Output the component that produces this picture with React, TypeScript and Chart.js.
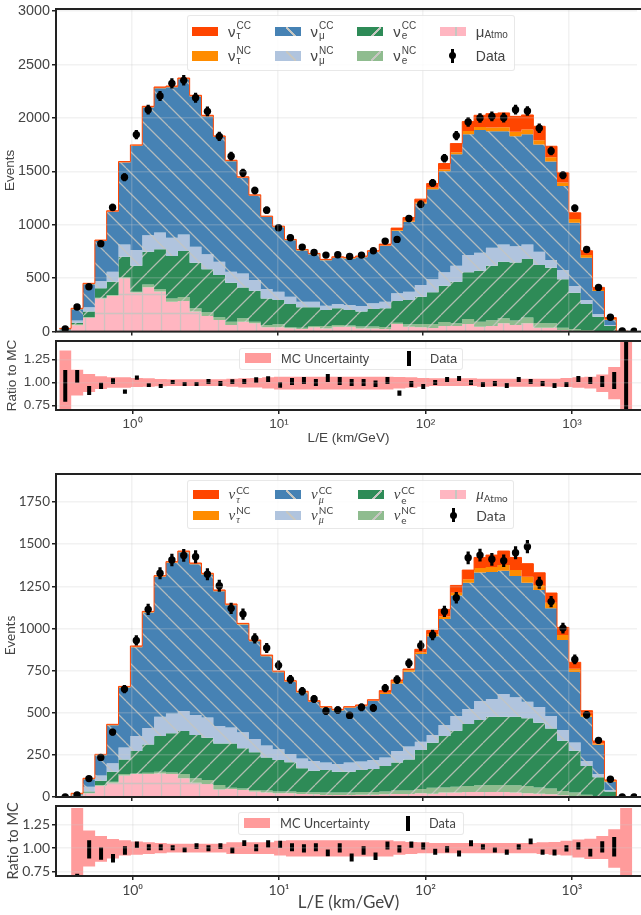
import { useEffect, useRef } from "react"
import { Chart, registerables } from "chart.js"

Chart.register(...registerables)

// log-spaced bin edges, km/GeV
const binEdges = [
  0.316, 0.381, 0.46, 0.555, 0.669, 0.807, 0.974, 1.175, 1.417, 1.71, 2.063, 2.488, 3.001, 3.621, 4.368, 5.269, 6.356,
  7.667, 9.25, 11.16, 13.46, 16.24, 19.59, 23.63, 28.5, 34.39, 41.48, 50.04, 60.37, 72.84, 87.84, 106.0, 127.8, 154.2,
  186.1, 224.4, 270.7, 326.6, 393.9, 475.3, 573.4, 691.6, 834.2, 1006, 1214, 1464, 1767, 2132, 2571, 3103,
]
const xTicks = [1, 10, 100, 1000]
const superscripts: Record<number, string> = { 1: "10⁰", 10: "10¹", 100: "10²", 1000: "10³" }
const xMin = 0.316
const xMax = 2958

const ratioTicks = [0.75, 1, 1.25]
const upperTicks = [0, 500, 1000, 1500, 2000, 2500, 3000]
const lowerTicks = [0, 250, 500, 750, 1000, 1250, 1500, 1750]

// upper figure: top edge of each layer of the stack
const upperTauCC = [30,218,452,857,1131,1592,1748,2109,2290,2299,2374,2212,2025,1832,1604,1449,1280,1081,987,863,769,732,676,700,695,707,757,819,969,1068,1240,1386,1573,1760,1966,2025,2040,2047,2015,2028,1922,1735,1486,1112,757,414,131,3,0]
const upperTauNC = [26,214,447,851,1125,1586,1741,2101,2282,2291,2366,2204,2017,1825,1597,1443,1274,1075,981,857,763,726,670,694,688,700,749,807,950,1037,1212,1346,1517,1679,1878,1916,1910,1913,1872,1891,1791,1632,1396,1053,716,389,115,2,0]
const upperMuCC = [22,210,444,848,1122,1583,1738,2098,2279,2288,2363,2201,2014,1822,1594,1440,1271,1072,978,854,760,723,667,691,685,697,745,801,944,1028,1199,1333,1501,1660,1847,1888,1875,1875,1829,1847,1751,1592,1364,1019,692,380,109,1,0]
const upperMuNC = [12,103,227,473,561,816,763,903,928,878,910,794,723,654,561,545,483,399,374,327,280,280,243,259,249,240,265,280,358,374,436,489,555,617,716,738,785,816,800,816,748,670,576,427,296,165,62,1,0]
const upperECC = [10,84,187,405,467,700,617,748,770,707,754,645,583,530,458,414,383,311,296,259,227,227,202,218,202,187,212,218,287,296,327,368,430,467,555,570,617,654,648,679,623,598,489,364,259,140,53,1,0]
const upperENC = [8,72,137,318,343,508,374,442,396,311,324,218,181,134,93,125,93,62,69,40,37,53,53,62,56,47,47,44,84,69,72,72,90,78,118,93,106,125,103,131,81,78,37,25,15,6,3,0,0]
const upperAtmo = [6,60,130,310,335,500,365,415,375,280,287,187,146,109,62,93,78,40,40,31,25,40,30,45,45,30,30,24,70,45,40,34,53,53,70,45,53,78,62,78,37,37,15,6,0,0,0,0,0]
const upperData = [25,230,420,822,1162,1445,1844,2078,2205,2324,2352,2190,2062,1828,1642,1486,1321,1137,972,878,791,741,716,720,704,716,757,847,863,1059,1193,1392,1623,1835,1962,2000,2015,2003,2078,2065,1903,1691,1464,1156,769,414,134,6,3]
const upperErr = [5,15,20,29,34,38,43,46,47,48,49,47,45,43,41,39,36,34,31,30,28,27,27,27,27,27,28,29,29,33,35,37,40,43,44,45,45,45,46,45,44,41,38,34,28,20,12,2,2]

const upperBandHi = [1.35,1.14,1.095,1.07,1.058,1.058,1.05,1.047,1.04,1.036,1.036,1.036,1.036,1.036,1.043,1.047,1.05,1.058,1.065,1.065,1.065,1.065,1.065,1.065,1.065,1.065,1.065,1.065,1.062,1.058,1.05,1.047,1.047,1.047,1.047,1.043,1.043,1.043,1.043,1.043,1.043,1.043,1.05,1.058,1.065,1.09,1.17,1.6,1]
const upperBandLo = [0.6,0.86,0.9,0.93,0.945,0.945,0.953,0.957,0.96,0.963,0.963,0.963,0.963,0.963,0.957,0.947,0.947,0.938,0.927,0.927,0.927,0.927,0.927,0.927,0.927,0.927,0.927,0.927,0.938,0.945,0.957,0.963,0.963,0.963,0.963,0.957,0.957,0.957,0.957,0.957,0.957,0.957,0.953,0.945,0.938,0.9,0.82,0.4,1]
const upperRatioHi = [1.139,1.139,0.963,1.0,1.047,0.927,1.077,0.993,0.985,1.03,1.007,1.007,1.04,1.018,1.036,1.04,1.058,1.069,1.004,1.05,1.062,1.04,1.095,1.062,1.04,1.04,1.025,1.062,0.916,1.018,0.985,1.03,1.062,1.073,1.03,1.007,1.018,0.996,1.062,1.04,1.018,0.996,1.007,1.073,1.062,1.073,1.117,1.6,null]
const upperRatioLo = [0.792,1.0,0.865,0.93,0.985,0.88,1.033,0.953,0.942,0.985,0.963,0.963,0.985,0.963,0.985,0.985,1.0,1.007,0.945,0.974,0.985,0.963,1.007,0.974,0.963,0.963,0.953,0.985,0.858,0.953,0.93,0.974,1.007,1.018,0.974,0.953,0.963,0.942,1.007,0.985,0.963,0.942,0.953,1.007,0.985,0.953,0.93,0.4,null]

// lower figure
const lowerTauCC = [2,22,111,253,431,656,896,1101,1313,1396,1459,1388,1327,1228,1145,1030,931,842,747,690,627,571,536,520,536,546,577,631,694,759,876,988,1113,1255,1346,1421,1435,1459,1421,1384,1330,1210,1006,799,512,332,101,2,0]
const lowerTauNC = [1,20,108,250,428,652,892,1097,1309,1392,1455,1384,1323,1224,1141,1026,927,838,743,686,623,567,532,516,532,542,573,619,684,753,858,965,1070,1212,1291,1358,1364,1376,1346,1307,1257,1153,961,761,486,318,97,1,0]
const lowerMuCC = [0,17,105,247,425,649,889,1094,1306,1389,1452,1381,1320,1221,1138,1023,924,835,740,683,620,564,529,513,529,539,570,611,674,743,848,953,1056,1196,1271,1331,1334,1342,1311,1271,1228,1119,931,741,476,310,91,1,0]
const lowerMuNC = [0,10,61,128,200,293,362,409,476,496,510,486,471,421,413,384,344,306,283,255,229,214,204,196,204,210,219,235,273,299,328,368,427,480,522,569,581,611,591,565,534,480,397,324,214,136,41,0,0]
const lowerECC = [0,8,32,97,150,223,273,312,362,378,391,368,352,318,318,289,265,235,219,206,170,156,160,150,150,160,166,184,204,223,279,322,362,393,433,457,476,476,476,467,441,407,334,275,184,117,32,0,0]
const lowerENC = [0,6,26,71,91,136,140,144,150,146,136,111,101,71,55,51,41,38,32,32,30,28,26,26,26,30,30,32,38,38,47,55,57,61,65,69,71,71,69,65,57,51,36,26,14,6,2,0,0]
const lowerAtmo = [0,2,22,67,85,127,136,136,140,136,111,85,77,45,47,41,32,26,22,22,18,16,12,12,12,14,14,16,18,18,22,20,26,26,30,30,30,30,26,22,20,16,10,4,0,0,0,0,0]
const lowerData = [0,12,109,235,385,640,929,1113,1327,1406,1433,1425,1321,1253,1119,1085,941,884,781,698,627,581,510,516,484,532,528,646,696,793,898,961,1101,1182,1419,1435,1410,1402,1449,1485,1271,1159,1002,816,488,336,105,0,0]
const lowerErr = [1,4,10,15,20,25,30,33,36,37,38,38,36,35,33,33,31,30,28,26,25,24,23,23,22,23,23,25,26,28,30,31,33,34,38,38,38,37,38,39,36,34,32,29,22,18,10,1,1]

const lowerBandHi = [1,1.425,1.186,1.128,1.095,1.084,1.07,1.062,1.055,1.047,1.047,1.047,1.047,1.047,1.062,1.062,1.062,1.062,1.077,1.084,1.084,1.084,1.084,1.084,1.084,1.084,1.084,1.084,1.073,1.065,1.062,1.055,1.055,1.055,1.055,1.055,1.055,1.055,1.055,1.055,1.062,1.065,1.077,1.091,1.1,1.128,1.2,1.425,1]
const lowerBandLo = [1,0.4,0.803,0.854,0.89,0.92,0.93,0.938,0.945,0.953,0.953,0.953,0.953,0.953,0.938,0.938,0.938,0.938,0.92,0.909,0.909,0.909,0.909,0.909,0.909,0.909,0.909,0.909,0.93,0.938,0.945,0.945,0.945,0.945,0.945,0.945,0.945,0.945,0.945,0.945,0.938,0.93,0.92,0.9,0.883,0.883,0.79,0.4,1]
const lowerRatioHi = [null,0.726,1.084,1.007,0.938,1.018,1.07,1.04,1.04,1.03,1.007,1.05,1.03,1.05,1.007,1.084,1.04,1.084,1.077,1.05,1.04,1.05,0.985,1.05,0.942,1.018,0.953,1.07,1.03,1.07,1.058,0.993,1.018,0.974,1.084,1.04,1.007,0.985,1.04,1.102,0.985,0.985,1.03,1.062,0.993,1.073,1.117,null,null]
const lowerRatioLo = [null,0.69,0.89,0.876,0.847,0.93,1.0,0.978,0.978,0.978,0.956,0.99,0.967,0.99,0.945,1.022,0.967,1.007,1.0,0.967,0.953,0.967,0.912,0.953,0.858,0.93,0.872,0.985,0.953,1.0,0.985,0.93,0.953,0.909,1.018,0.985,0.953,0.93,0.985,1.04,0.93,0.92,0.963,0.985,0.909,0.953,0.909,null,null]

const COLORS = {
  tauCC: "#ff4500",
  tauNC: "#ff8c00",
  muCC: "#4682b4",
  muNC: "#b0c4de",
  eCC: "#2e8b57",
  eNC: "#8fbc8f",
  atmo: "#ffb6c1",
  band: "#ff9b9b",
  text: "#444444",
  frame: "#222222",
  grid: "rgba(205,205,205,0.25)",
  hatch: "rgba(198,198,192,0.85)",
}

const SANS = '"Liberation Sans"'
const LATEX = "Lato"

// one tile of matplotlib style hatching
function hatchPattern(color: string, kind: "/" | "\\" | "+") {
  const size = kind === "+" ? 19 : 21
  const tile = document.createElement("canvas")
  tile.width = size
  tile.height = size
  const ctx = tile.getContext("2d")!
  ctx.fillStyle = color
  ctx.fillRect(0, 0, size, size)
  ctx.strokeStyle = COLORS.hatch
  ctx.lineWidth = 1.3
  ctx.beginPath()
  if (kind === "+") {
    ctx.moveTo(size / 2, 0)
    ctx.lineTo(size / 2, size)
    ctx.moveTo(0, size / 2)
    ctx.lineTo(size, size / 2)
  } else {
    for (const shift of [-size, 0, size]) {
      if (kind === "/") {
        ctx.moveTo(shift, size)
        ctx.lineTo(shift + size, 0)
      } else {
        ctx.moveTo(shift, 0)
        ctx.lineTo(shift + size, size)
      }
    }
  }
  ctx.stroke()
  return ctx.createPattern(tile, "repeat")!
}

const stairs = (values: number[]) =>
  binEdges.map((edge, i) => ({ x: edge, y: values[Math.min(i, values.length - 1)] }))

const centre = (i: number) => Math.sqrt(binEdges[i] * binEdges[i + 1])

const errorBars = (lo: (number | null)[], hi: (number | null)[]) =>
  lo.flatMap((l, i) =>
    l === null
      ? []
      : [
          { x: centre(i), y: l },
          { x: centre(i), y: hi[i] },
          { x: centre(i), y: null },
        ],
  )

const frame = {
  id: "frame",
  afterDraw(chart: Chart) {
    const { ctx, chartArea } = chart
    ctx.save()
    ctx.strokeStyle = COLORS.frame
    ctx.lineWidth = 2
    ctx.strokeRect(chartArea.left, chartArea.top, chartArea.right - chartArea.left + 10, chartArea.bottom - chartArea.top)
    ctx.restore()
  },
}

// the plot box is fixed by hand, so tick labels must not push it around
const noPadding = (s: any) => {
  s.paddingTop = 0
  s.paddingBottom = 0
  s.paddingLeft = 0
  s.paddingRight = 0
}

function baseOptions(p: PanelProps): any {
  const plotTop = p.plotTop - p.top
  return {
    responsive: false,
    animation: false,
    layout: { padding: { top: plotTop, left: 0, right: 0, bottom: 0 } },
    plugins: { legend: { display: false }, tooltip: { enabled: false } },
    events: [],
    scales: {
      x: {
        type: "logarithmic",
        min: xMin,
        max: xMax,
        afterFit: (s: any) => {
          s.height = p.top + p.height - p.plotBottom
          noPadding(s)
        },
        afterBuildTicks: (s: any) => {
          s.ticks = xTicks.map((value) => ({ value }))
        },
        border: { display: false },
        grid: { z: 1, color: COLORS.grid, lineWidth: 1.5, tickColor: COLORS.frame, tickWidth: 1.5, tickLength: 4 },
        ticks: {
          display: !!p.xTitle,
          autoSkip: false,
          maxRotation: 0,
          padding: 2,
          color: COLORS.text,
          font: { family: p.font, size: p.tickSize },
          callback: (v: number) => superscripts[v],
        },
        title: p.xTitle
          ? {
              display: true,
              text: p.xTitle,
              color: COLORS.text,
              font: { family: p.font, size: p.xTitleSize },
              padding: p.xTitlePad,
            }
          : { display: false },
      },
      y: {
        min: p.yMin,
        max: p.yMax,
        afterFit: (s: any) => {
          s.width = 56
          noPadding(s)
        },
        afterBuildTicks: (s: any) => {
          s.ticks = p.yTicks.map((value) => ({ value }))
        },
        border: { display: false },
        grid: { z: 1, color: COLORS.grid, lineWidth: 1.5, tickColor: COLORS.frame, tickWidth: 1.5, tickLength: 4 },
        ticks: {
          autoSkip: false,
          padding: 2,
          color: COLORS.text,
          font: { family: p.font, size: p.tickSize },
          callback: (v: number) => (p.yDigits ? v.toFixed(p.yDigits) : String(v)),
        },
        title: {
          display: true,
          text: p.yTitle,
          color: COLORS.text,
          font: { family: p.font, size: p.yTitleSize },
          padding: p.yTitlePad,
        },
      },
    },
  }
}

interface PanelProps {
  top: number
  height: number
  plotTop: number
  plotBottom: number
  yMin: number
  yMax: number
  yTicks: number[]
  yDigits?: number
  yTitle: string
  yTitleSize: number
  yTitlePad: number
  xTitle?: string
  xTitleSize?: number
  xTitlePad?: number
  tickSize: number
  font: string
  datasets: () => any[]
}

function Panel(p: PanelProps) {
  const canvasRef = useRef<HTMLCanvasElement | null>(null)

  useEffect(() => {
    if (!canvasRef.current) return
    const chart = new Chart(canvasRef.current, {
      type: "line",
      data: { datasets: p.datasets() },
      options: baseOptions(p),
      plugins: [frame],
    })
    return () => chart.destroy()
  }, [])

  return (
    <canvas
      ref={canvasRef}
      width={641}
      height={p.height}
      style={{ position: "absolute", left: 0, top: p.top, width: 641, height: p.height }}
    />
  )
}

function stackDatasets(layers: number[][], data: number[], err: number[]) {
  const looks = [
    { bg: COLORS.tauCC, border: COLORS.tauCC },
    { bg: COLORS.tauNC },
    { bg: hatchPattern(COLORS.muCC, "\\") },
    { bg: hatchPattern(COLORS.muNC, "\\") },
    { bg: hatchPattern(COLORS.eCC, "/") },
    { bg: hatchPattern(COLORS.eNC, "/") },
    { bg: hatchPattern(COLORS.atmo, "+") },
  ]
  return [
    {
      data: data.map((y, i) => ({ x: centre(i), y })),
      showLine: false,
      pointRadius: 3.7,
      pointBorderWidth: 0,
      pointBackgroundColor: "#000",
    },
    {
      data: errorBars(data.map((d, i) => d - err[i]), data.map((d, i) => d + err[i])),
      borderColor: "#000",
      borderWidth: 3.2,
      pointRadius: 0,
    },
    ...layers.map((values, i) => ({
      data: stairs(values),
      stepped: "before",
      pointRadius: 0,
      borderWidth: looks[i].border ? 1 : 0,
      borderColor: looks[i].border ?? "transparent",
      backgroundColor: looks[i].bg,
      fill: i === layers.length - 1 ? "origin" : "+1",
    })),
  ]
}

function ratioDatasets(bandHi: number[], bandLo: number[], hi: (number | null)[], lo: (number | null)[]) {
  return [
    { data: errorBars(lo, hi), borderColor: "#000", borderWidth: 4, pointRadius: 0 },
    {
      data: stairs(bandHi),
      stepped: "before",
      pointRadius: 0,
      borderWidth: 0,
      backgroundColor: COLORS.band,
      fill: "+1",
    },
    { data: stairs(bandLo), stepped: "before", pointRadius: 0, borderWidth: 0 },
  ]
}

// legend

interface LegendStyle {
  font: string
  greek: string
  greekStyle: "normal" | "italic"
  textSize: number
  scriptSize: number
}

function hatchCss(kind?: string) {
  const line = (angle: number) =>
    `linear-gradient(${angle}deg, transparent 44%, #c6c6c0 44%, #c6c6c0 56%, transparent 56%)`
  if (kind === "/") return { backgroundImage: line(135), backgroundSize: "10px 10px", backgroundPosition: "14px 0", backgroundRepeat: "no-repeat" }
  if (kind === "\\") return { backgroundImage: line(45), backgroundSize: "10px 10px", backgroundPosition: "11px 0", backgroundRepeat: "no-repeat" }
  if (kind === "+") return { backgroundImage: line(90), backgroundSize: "14px 10px", backgroundPosition: "9px 0", backgroundRepeat: "no-repeat" }
  return {}
}

function Swatch({ color, hatch }: { color: string; hatch?: string }) {
  return <span style={{ width: 26, height: 9.5, backgroundColor: color, flex: "none", ...hatchCss(hatch) }} />
}

function Neutrino({ flavour, kind, s }: { flavour: string; kind: string; s: LegendStyle }) {
  return (
    <span style={{ display: "inline-flex", alignItems: "center", marginLeft: 10 }}>
      <span style={{ fontFamily: s.greek, fontStyle: s.greekStyle, fontSize: s.textSize + 2 }}>ν</span>
      <span style={{ display: "inline-flex", flexDirection: "column", fontSize: s.scriptSize, lineHeight: "10px", marginLeft: 1 }}>
        <span>{kind}</span>
        <span style={flavour === "e" ? {} : { fontFamily: s.greek, fontStyle: s.greekStyle }}>{flavour}</span>
      </span>
    </span>
  )
}

const legendFlavours = [
  { flavour: "τ", kinds: ["CC", "NC"], colors: [COLORS.tauCC, COLORS.tauNC], hatch: undefined },
  { flavour: "μ", kinds: ["CC", "NC"], colors: [COLORS.muCC, COLORS.muNC], hatch: "\\" },
  { flavour: "e", kinds: ["CC", "NC"], colors: [COLORS.eCC, COLORS.eNC], hatch: "/" },
]

function StackLegend({ left, top, width, height, rowGap, s }: { left: number; top: number; width: number; height: number; rowGap: number; s: LegendStyle }) {
  const columnWidth = 82.6
  return (
    <div
      style={{
        position: "absolute",
        left,
        top,
        width,
        height,
        boxSizing: "border-box",
        background: "rgba(255,255,255,0.8)",
        border: "1px solid rgba(0,0,0,0.09)",
        borderRadius: 3,
        color: COLORS.text,
        fontFamily: s.font,
        fontSize: s.textSize,
      }}
    >
      {legendFlavours.map((f, c) =>
        f.kinds.map((kind, r) => (
          <div
            key={f.flavour + kind}
            style={{
              position: "absolute",
              left: 4.5 + c * columnWidth,
              top: (height - rowGap) / 2 - 11 + r * rowGap,
              height: 22,
              display: "flex",
              alignItems: "center",
            }}
          >
            <Swatch color={f.colors[r]} hatch={f.hatch} />
            <Neutrino flavour={f.flavour} kind={kind} s={s} />
          </div>
        )),
      )}
      <div style={{ position: "absolute", left: 4.5 + 3 * columnWidth, top: (height - rowGap) / 2 - 11, height: 22, display: "flex", alignItems: "center" }}>
        <Swatch color={COLORS.atmo} hatch="+" />
        <span style={{ marginLeft: 10, fontFamily: s.greek, fontStyle: s.greekStyle, fontSize: s.textSize + 2 }}>μ</span>
        <span style={{ fontSize: s.scriptSize, position: "relative", top: 3 }}>Atmo</span>
      </div>
      <div style={{ position: "absolute", left: 4.5 + 3 * columnWidth, top: (height - rowGap) / 2 - 11 + rowGap, height: 22, display: "flex", alignItems: "center" }}>
        <span style={{ width: 26, height: 14, flex: "none", position: "relative" }}>
          <span style={{ position: "absolute", left: 11.5, top: 0, width: 3, height: 14, background: "#000" }} />
          <span style={{ position: "absolute", left: 9.5, top: 3.5, width: 7, height: 7, borderRadius: "50%", background: "#000" }} />
        </span>
        <span style={{ marginLeft: 10, fontSize: s.textSize + 1 }}>Data</span>
      </div>
    </div>
  )
}

function RatioLegend({ left, top, width, height, font, size }: { left: number; top: number; width: number; height: number; font: string; size: number }) {
  return (
    <div
      style={{
        position: "absolute",
        left,
        top,
        width,
        height,
        boxSizing: "border-box",
        background: "rgba(255,255,255,0.8)",
        border: "1px solid rgba(0,0,0,0.09)",
        borderRadius: 3,
        color: COLORS.text,
        fontFamily: font,
        fontSize: size,
      }}
    >
      <span style={{ position: "absolute", left: 5, top: (height - 12) / 2 - 1, width: 26, height: 10, background: COLORS.band }} />
      <span style={{ position: "absolute", left: 41, top: 0, lineHeight: `${height - 2}px` }}>MC Uncertainty</span>
      <span style={{ position: "absolute", left: 167, top: (height - 16) / 2 - 1, width: 3.5, height: 15, background: "#000" }} />
      <span style={{ position: "absolute", left: 190, top: 0, lineHeight: `${height - 2}px` }}>Data</span>
    </div>
  )
}

const upperLegend: LegendStyle = { font: SANS, greek: SANS, greekStyle: "normal", textSize: 13, scriptSize: 10 }
const lowerLegend: LegendStyle = { font: LATEX, greek: '"Liberation Serif"', greekStyle: "italic", textSize: 13, scriptSize: 10 }

export default function App() {
  return (
    <div style={{ position: "absolute", left: 0, top: 0, width: 641, height: 915, overflow: "hidden", background: "#fff" }}>
      <Panel
        top={0}
        height={336}
        plotTop={9}
        plotBottom={331.6}
        yMin={0}
        yMax={3020}
        yTicks={upperTicks}
        yTitle="Events"
        yTitleSize={13.5}
        yTitlePad={2}
        tickSize={14.4}
        font={SANS}
        datasets={() =>
          stackDatasets([upperTauCC, upperTauNC, upperMuCC, upperMuNC, upperECC, upperENC, upperAtmo], upperData, upperErr)
        }
      />
      <Panel
        top={336}
        height={114}
        plotTop={341}
        plotBottom={410}
        yMin={0.703}
        yMax={1.453}
        yTicks={ratioTicks}
        yDigits={2}
        yTitle="Ratio to MC"
        yTitleSize={13.5}
        yTitlePad={4}
        xTitle="L/E (km/GeV)"
        xTitleSize={13.5}
        xTitlePad={4}
        tickSize={13.5}
        font={SANS}
        datasets={() => ratioDatasets(upperBandHi, upperBandLo, upperRatioHi, upperRatioLo)}
      />
      <Panel
        top={470}
        height={332}
        plotTop={474}
        plotBottom={797}
        yMin={0}
        yMax={1916}
        yTicks={lowerTicks}
        yTitle="Events"
        yTitleSize={13.5}
        yTitlePad={3}
        tickSize={13.5}
        font={LATEX}
        datasets={() =>
          stackDatasets([lowerTauCC, lowerTauNC, lowerMuCC, lowerMuNC, lowerECC, lowerENC, lowerAtmo], lowerData, lowerErr)
        }
      />
      <Panel
        top={801}
        height={114}
        plotTop={806}
        plotBottom={876}
        yMin={0.703}
        yMax={1.447}
        yTicks={ratioTicks}
        yDigits={2}
        yTitle="Ratio to MC"
        yTitleSize={14.5}
        yTitlePad={5}
        xTitle="L/E (km/GeV)"
        xTitleSize={17}
        xTitlePad={2}
        tickSize={14}
        font={LATEX}
        datasets={() => ratioDatasets(lowerBandHi, lowerBandLo, lowerRatioHi, lowerRatioLo)}
      />
      <StackLegend left={186.5} top={14.5} width={328} height={56} rowGap={24.5} s={upperLegend} />
      <RatioLegend left={239} top={347.5} width={224} height={22.5} font={SANS} size={12.8} />
      <StackLegend left={187} top={479.5} width={327} height={49} rowGap={20.7} s={lowerLegend} />
      <RatioLegend left={238} top={812} width={226} height={23} font={LATEX} size={12.8} />
    </div>
  )
}
